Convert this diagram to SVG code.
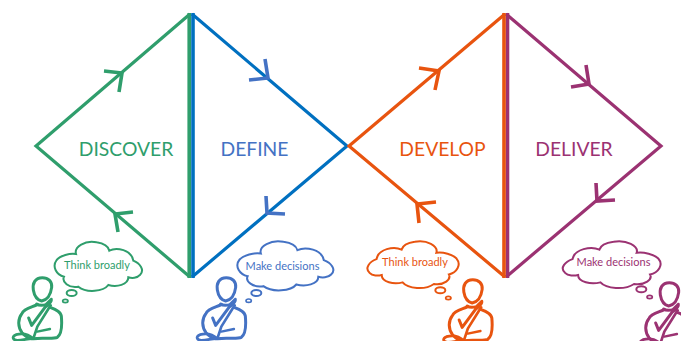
<svg xmlns="http://www.w3.org/2000/svg" width="681" height="341" viewBox="0 0 681 341">
<style>
.green{color:#2F9E6C}.blue{color:#0070C0}.sblue{color:#4472C4}.orange{color:#E8540F}.purple{color:#9B3272}
.edge{fill:none;stroke:currentColor;stroke-width:3.2}
.bar{fill:none;stroke:currentColor;stroke-width:3.6}
.head{fill:none;stroke:currentColor;stroke-width:3.6}
.title{font-family:"Lato","Liberation Sans",sans-serif;font-size:19.3px;text-anchor:middle;fill:currentColor}
.say{font-family:"Lato","Liberation Sans",sans-serif;font-size:11px;text-anchor:middle;fill:currentColor}
.ol{fill:none;stroke:currentColor;stroke-linejoin:round;stroke-linecap:round}
.cl{fill:#fff;stroke:currentColor;stroke-width:2;vector-effect:non-scaling-stroke}
.p{fill:none;stroke:currentColor}
.p1{stroke-width:6}.p2{stroke-width:5}
</style>
<defs>
<g id="person" class="ol" transform="scale(.3333)">
<path stroke-width="9" d="M127 143C105 143 97 160 100 180C103 198 112 210 125 213C140 210 152 195 155 172C157 155 145 143 127 143Z"/>
<path stroke-width="9" d="M112 224C95 232 72 236 66 250C52 268 54 292 66 308C76 320 88 328 100 326C125 322 160 328 172 322C186 312 186 280 184 258C182 244 165 238 150 232"/>
<path stroke-width="9" d="M86 264L95 286L135 232C146 224 156 216 154 208L138 224C130 226 118 228 110 222"/>
<path stroke-width="8" d="M152 226L112 290L100 326C85 312 70 308 48 314C34 320 38 331 52 331C70 331 85 325 100 326"/>
<path stroke-width="7" d="M112 305L150 297"/>
</g>
<path id="cloud" class="cl" d="M228 72C222 50 255 30 290 37C310 40 325 50 328 62C350 50 395 60 400 92C420 100 435 120 420 135C412 145 395 145 385 142C385 165 350 172 325 165C310 185 260 190 235 170C205 175 185 155 192 140C170 135 155 110 170 90C180 78 210 68 228 72Z"/>
</defs>
<g id="connectors">
<polyline class="edge green" points="190,14 36,146 190,277"/>
<line class="bar green" x1="189.2" y1="13" x2="189.2" y2="278"/>
<polyline class="edge blue" points="192,14 347,146 192,277"/>
<line class="bar blue" x1="193" y1="13" x2="193" y2="278"/>
<polyline class="edge orange" points="505,14 349,146 505,277"/>
<polyline class="edge purple" points="506,14 661,146 506,277"/>
<line class="bar purple" x1="507.5" y1="13" x2="507.5" y2="278"/>
<line class="bar orange" x1="504" y1="13" x2="504" y2="278"/>
<polyline class="head green" points="104,71 122,73 119,92"/>
<polyline class="head sblue" points="265,59 268,78 249,80"/>
<polyline class="head green" points="133,212 115,214 118,232"/>
<polyline class="head sblue" points="266,196 267,213 285,214"/>
<polyline class="head orange" points="419,68 439,71 435,90"/>
<polyline class="head purple" points="586,65 589,84 571,87"/>
<polyline class="head orange" points="436,202 417,204 419,223"/>
<polyline class="head purple" points="596,183 597,201 615,200"/>
</g>
<g id="discover" class="green"><text class="title" x="126" y="156">DISCOVER</text></g>
<g id="define" class="sblue"><text class="title" x="254.500" y="156">DEFINE</text></g>
<g id="develop" class="orange"><text class="title" x="442.500" y="156">DEVELOP</text></g>
<g id="deliver" class="purple"><text class="title" x="574" y="156">DELIVER</text></g>
<g id="thinker-green" class="green">
<use href="#person" transform="translate(0,230)"/>
<g transform="translate(0,230) scale(.3333)"><use href="#cloud"/><ellipse class="p p1" cx="215" cy="189" rx="15" ry="9"/><ellipse class="p p2" cx="196" cy="213" rx="8" ry="5"/></g>
<text class="say" x="97" y="269">Think broadly</text>
</g>
<g id="thinker-blue" class="sblue">
<use href="#person" transform="translate(184,230)"/>
<g transform="translate(177.400,229.500) scale(.366,.3333)"><use href="#cloud"/></g>
<g transform="translate(190,230) scale(.3333)"><ellipse class="p p1" cx="199" cy="189" rx="15" ry="9"/><ellipse class="p p2" cx="176" cy="212" rx="8" ry="5"/></g>
<text class="say" x="282.500" y="269.500">Make decisions</text>
</g>
<g id="thinker-orange" class="orange">
<use href="#person" transform="translate(430.500,232)"/>
<g transform="translate(515.700,229.900) scale(-.348,.318)"><use href="#cloud"/></g>
<g transform="translate(360,230) scale(.3333)"><ellipse class="p p1" cx="241" cy="181" rx="15" ry="9"/><ellipse class="p p2" cx="265" cy="204" rx="8" ry="5"/></g>
<text class="say" x="415" y="266">Think broadly</text>
</g>
<g id="thinker-purple" class="purple">
<use href="#person" transform="translate(627,235)"/>
<g transform="translate(721.700,229.900) scale(-.373,.318)"><use href="#cloud"/></g>
<g transform="translate(550,230) scale(.3333)"><ellipse class="p p1" cx="274" cy="178" rx="15" ry="9"/><ellipse class="p p2" cx="299" cy="201" rx="8" ry="5"/></g>
<text class="say" x="613.500" y="266">Make decisions</text>
</g>
</svg>
